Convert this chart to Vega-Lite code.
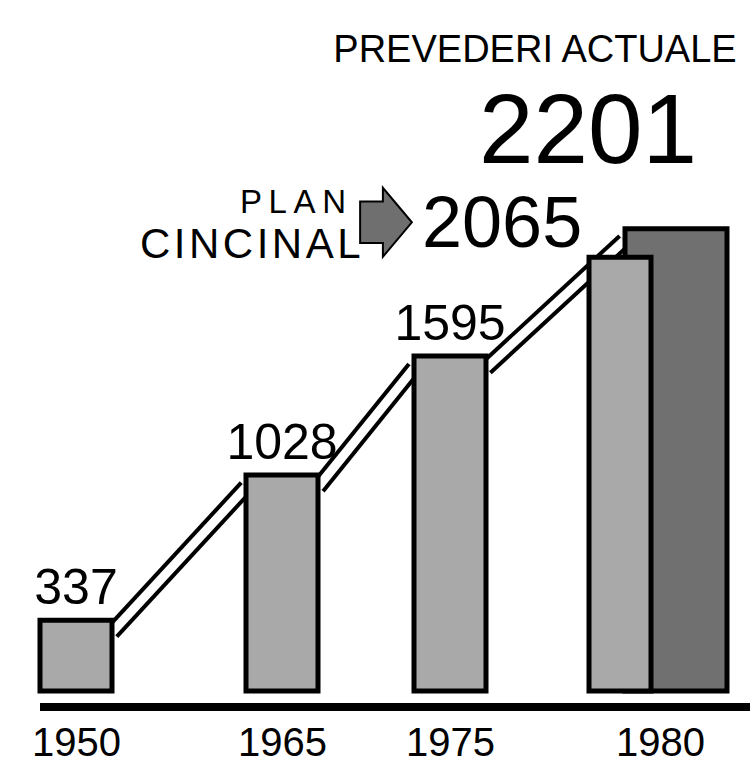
{
  "$schema": "https://vega.github.io/schema/vega-lite/v6.json",
  "width": 710,
  "height": 691,
  "padding": {"left": 40, "top": 0, "right": 0, "bottom": 91},
  "autosize": {"type": "none"},
  "background": "white",
  "config": {"view": {"stroke": null}, "font": "Liberation Sans"},
  "datasets": {
    "bars": [
      {"year": 1950, "value": 337, "series": "realizat"},
      {"year": 1965, "value": 1028, "series": "realizat"},
      {"year": 1975, "value": 1595, "series": "realizat"},
      {"year": 1980, "value": 2065, "series": "plan cincinal"},
      {"year": 1980, "value": 2201, "series": "prevederi actuale"}
    ],
    "links": [
      {"segment": "1950-1965", "year": 1950, "edge": "R", "value": 337},
      {"segment": "1950-1965", "year": 1965, "edge": "L", "value": 1028},
      {"segment": "1965-1975", "year": 1965, "edge": "R", "value": 1028},
      {"segment": "1965-1975", "year": 1975, "edge": "L", "value": 1595},
      {"segment": "1975-1980", "year": 1975, "edge": "R", "value": 1595},
      {"segment": "1975-1980", "year": 1980, "edge": "L", "value": 2201}
    ]
  },
  "layer": [
    {
      "data": {"values": [{}]},
      "mark": {"type": "rule", "strokeWidth": 8, "color": "black", "yOffset": 16},
      "encoding": {"y": {"datum": 0, "type": "quantitative", "scale": {"domain": [0, 3290], "nice": false}, "axis": null}}
    },
    {
      "data": {"name": "links"},
      "mark": {"type": "line", "color": "black", "strokeWidth": 17, "yOffset": 12, "strokeCap": "butt", "xOffset": {"expr": "datum.edge === 'L' ? -36 : 36"}},
      "encoding": {
        "x": {"field": "year", "type": "quantitative", "scale": {"domain": [1950, 1965, 1975, 1980], "range": [36, 242, 410, 620], "nice": false, "zero": false, "padding": 0}, "axis": {"values": [1950, 1965, 1975, 1980], "format": "d", "domain": false, "ticks": false, "tickSize": 0, "grid": false, "title": null, "labelFont": "Liberation Sans", "labelFontSize": 40, "labelColor": "black", "labelPadding": 64, "labelBaseline": "alphabetic", "labelFlush": false, "labelOverlap": false, "labelBound": false}},
        "y": {"field": "value", "type": "quantitative", "scale": {"domain": [0, 3290], "nice": false}, "axis": null},
        "detail": {"field": "segment"}
      }
    },
    {
      "data": {"name": "links"},
      "mark": {"type": "line", "color": "white", "strokeWidth": 9, "yOffset": 12, "strokeCap": "butt", "xOffset": {"expr": "datum.edge === 'L' ? -36 : 36"}},
      "encoding": {
        "x": {"field": "year", "type": "quantitative"},
        "y": {"field": "value", "type": "quantitative"},
        "detail": {"field": "segment"}
      }
    },
    {
      "data": {"name": "bars"},
      "transform": [{"filter": "datum.series === 'prevederi actuale'"}],
      "mark": {"type": "bar", "orient": "vertical", "width": 102, "xOffset": 16, "fill": "#707070", "stroke": "black", "strokeWidth": 5},
      "encoding": {
        "x": {"field": "year", "type": "quantitative"},
        "y": {"field": "value", "type": "quantitative", "stack": null}
      }
    },
    {
      "data": {"name": "bars"},
      "transform": [{"filter": "datum.series === 'realizat'"}],
      "mark": {"type": "bar", "orient": "vertical", "width": 72, "fill": "#a9a9a9", "stroke": "black", "strokeWidth": 5},
      "encoding": {
        "x": {"field": "year", "type": "quantitative"},
        "y": {"field": "value", "type": "quantitative", "stack": null}
      }
    },
    {
      "data": {"name": "bars"},
      "transform": [{"filter": "datum.series === 'plan cincinal'"}],
      "mark": {"type": "bar", "orient": "vertical", "width": 62, "xOffset": -40, "fill": "#a9a9a9", "stroke": "black", "strokeWidth": 5},
      "encoding": {
        "x": {"field": "year", "type": "quantitative"},
        "y": {"field": "value", "type": "quantitative", "stack": null}
      }
    },
    {
      "data": {"name": "bars"},
      "transform": [{"filter": "datum.series === 'realizat'"}],
      "mark": {"type": "text", "baseline": "alphabetic", "align": "center", "dy": -16, "fontSize": 50, "font": "Liberation Sans", "color": "black"},
      "encoding": {
        "x": {"field": "year", "type": "quantitative"},
        "y": {"field": "value", "type": "quantitative"},
        "text": {"field": "value", "type": "quantitative", "format": "d"}
      }
    },
    {
      "data": {"name": "bars"},
      "transform": [{"filter": "datum.series === 'plan cincinal'"}],
      "mark": {"type": "text", "baseline": "alphabetic", "align": "left", "dx": -238, "dy": -10, "fontSize": 72, "font": "Liberation Sans", "color": "black"},
      "encoding": {
        "x": {"field": "year", "type": "quantitative"},
        "y": {"field": "value", "type": "quantitative"},
        "text": {"field": "value", "type": "quantitative", "format": "d"}
      }
    },
    {
      "data": {"name": "bars"},
      "transform": [{"filter": "datum.series === 'plan cincinal'"}],
      "mark": {"type": "text", "baseline": "alphabetic", "align": "left", "dx": -420, "dy": -44, "fontSize": 33, "font": "Liberation Sans", "color": "black", "text": "P\u2009L\u2009A\u2009N"},
      "encoding": {
        "x": {"field": "year", "type": "quantitative"},
        "y": {"field": "value", "type": "quantitative"}
      }
    },
    {
      "data": {"name": "bars"},
      "transform": [{"filter": "datum.series === 'plan cincinal'"}],
      "mark": {"type": "text", "baseline": "alphabetic", "align": "left", "dx": -520, "dy": 1, "fontSize": 42, "font": "Liberation Sans", "color": "black", "text": "C\u200aI\u200aN\u200aC\u200aI\u200aN\u200aA\u200aL"},
      "encoding": {
        "x": {"field": "year", "type": "quantitative"},
        "y": {"field": "value", "type": "quantitative"}
      }
    },
    {
      "data": {"name": "bars"},
      "transform": [{"filter": "datum.series === 'plan cincinal'"}],
      "mark": {"type": "point", "shape": "M-0.75,-0.6L-0.09,-0.6L-0.09,-1L0.75,0L-0.09,1L-0.09,0.6L-0.75,0.6Z", "size": 4761, "filled": true, "fill": "#6f6f6f", "stroke": "black", "strokeWidth": 2, "opacity": 1, "xOffset": -274, "yOffset": -35},
      "encoding": {
        "x": {"field": "year", "type": "quantitative"},
        "y": {"field": "value", "type": "quantitative"}
      }
    },
    {
      "data": {"name": "bars"},
      "transform": [{"filter": "datum.series === 'prevederi actuale'"}],
      "mark": {"type": "text", "baseline": "alphabetic", "align": "center", "dx": -72, "dy": -66, "fontSize": 98, "font": "Liberation Sans", "color": "black"},
      "encoding": {
        "x": {"field": "year", "type": "quantitative"},
        "y": {"field": "value", "type": "quantitative"},
        "text": {"field": "value", "type": "quantitative", "format": "d"}
      }
    },
    {
      "data": {"name": "bars"},
      "transform": [{"filter": "datum.series === 'prevederi actuale'"}],
      "mark": {"type": "text", "baseline": "alphabetic", "align": "center", "dx": -125, "dy": -167, "fontSize": 38, "font": "Liberation Sans", "color": "black", "text": "PREVEDERI ACTUALE"},
      "encoding": {
        "x": {"field": "year", "type": "quantitative"},
        "y": {"field": "value", "type": "quantitative"}
      }
    }
  ]
}
